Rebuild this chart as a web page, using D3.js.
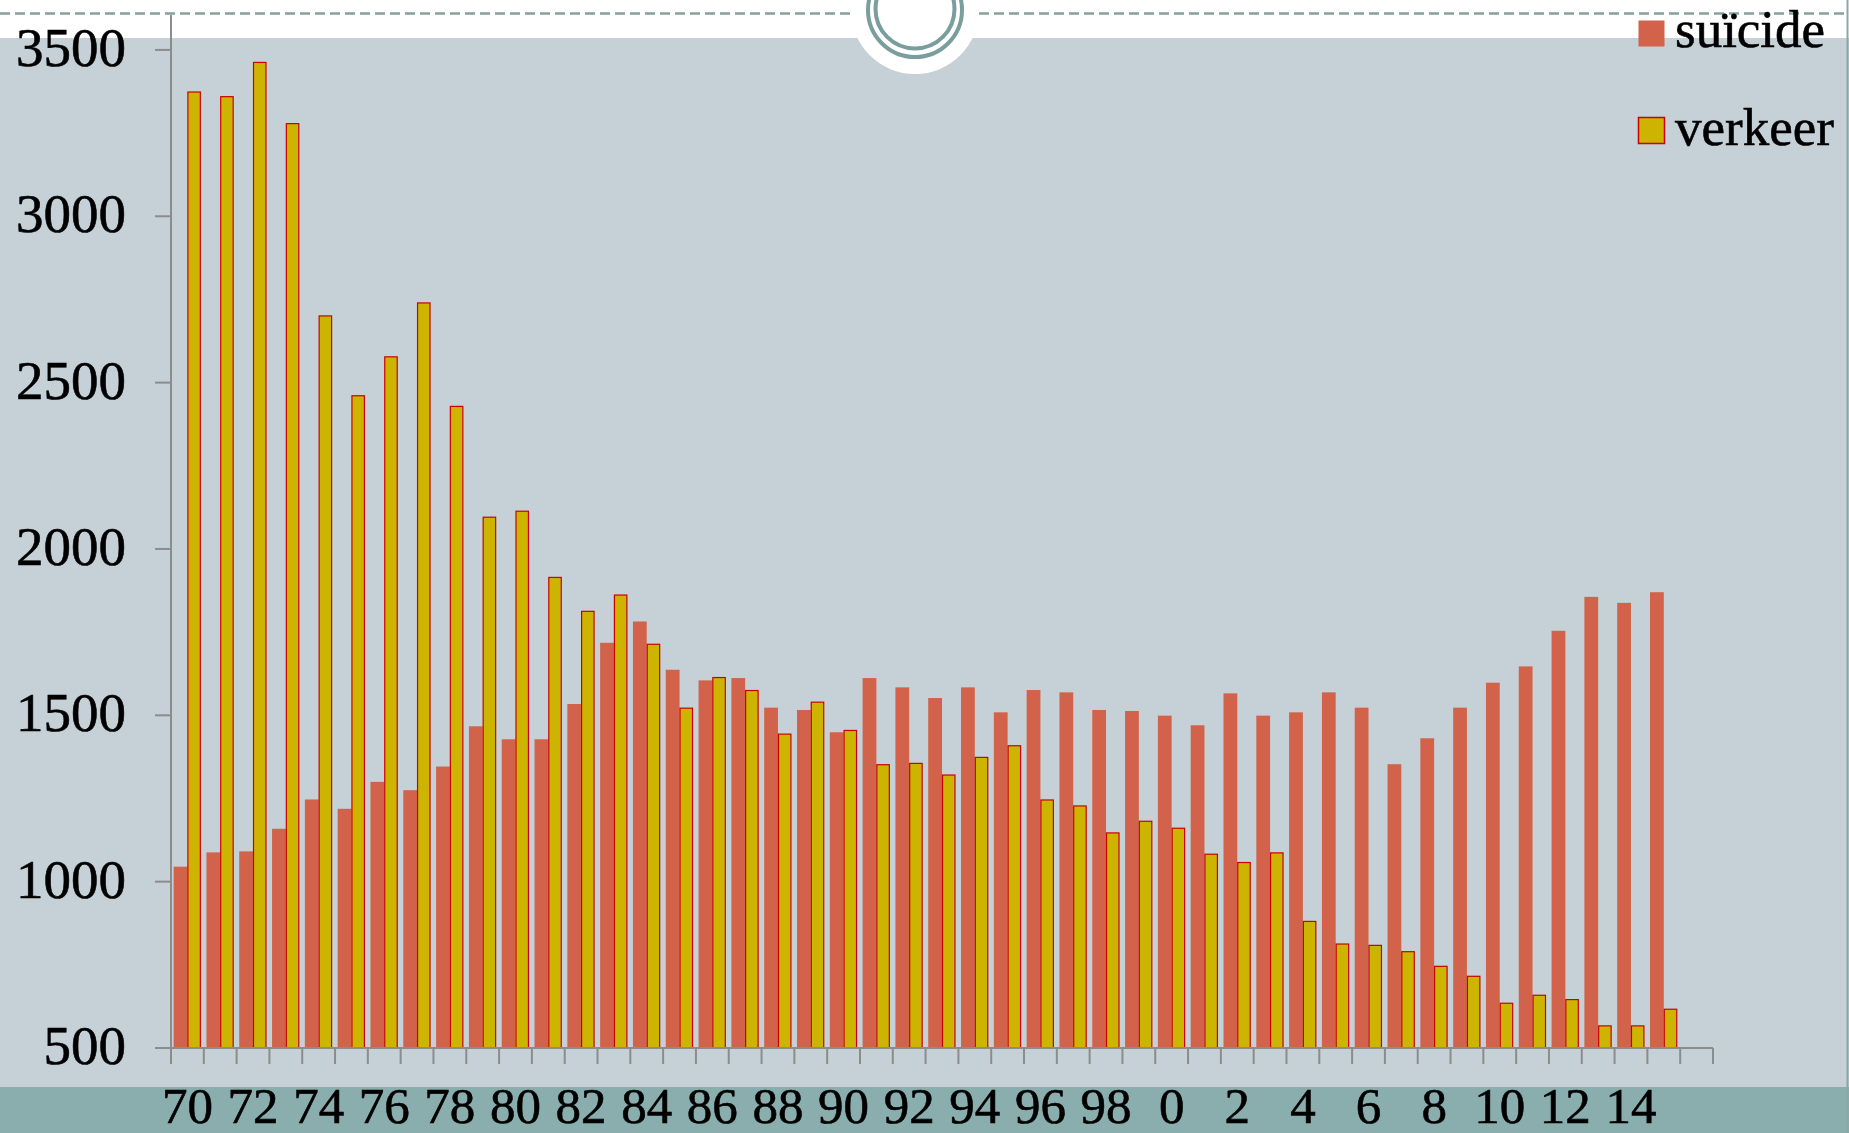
<!DOCTYPE html>
<html>
<head>
<meta charset="utf-8">
<script src="https://cdn.jsdelivr.net/npm/d3@7"></script>
<style>
  body { margin: 0; background: #ffffff; }
  text { font-family: "Liberation Serif", "DejaVu Serif", serif; fill: #000000; stroke: #000000; stroke-width: 0.6px; }
</style>
</head>
<body>
<div id="chart"></div>
<script>
// Chart data
var years = d3.range(1970, 2016);
var suicide = [1045, 1088, 1091, 1159, 1247, 1219, 1300, 1275, 1346, 1467,
  1428, 1428, 1534, 1718, 1782, 1637, 1605, 1612, 1523, 1516,
  1449, 1612, 1584, 1552, 1584, 1509, 1576, 1569, 1516, 1513,
  1499, 1470, 1566, 1499, 1509, 1569, 1523, 1353, 1431, 1523,
  1598, 1647, 1754, 1856, 1838, 1870];
var verkeer = [3375, 3361, 3464, 3280, 2702, 2462, 2579, 2741, 2430, 2097,
  2115, 1916, 1814, 1863, 1715, 1523, 1615, 1576, 1445, 1541,
  1456, 1353, 1357, 1322, 1375, 1410, 1247, 1229, 1148, 1183,
  1162, 1084, 1059, 1088, 882, 814, 810, 791, 747, 717,
  636, 660, 647, 568, 568, 618];
var seriesNames = ["suïcide", "verkeer"];
var yTicks = [500, 1000, 1500, 2000, 2500, 3000, 3500];

// Define SVG area size
var svgWidth = 1849;
var svgHeight = 1133;

var svg = d3.select("#chart")
  .append("svg")
  .attr("width", svgWidth)
  .attr("height", svgHeight);

// slide background
svg.append("rect")
  .attr("x", 0).attr("y", 38)
  .attr("width", svgWidth).attr("height", 1087 - 38)
  .attr("fill", "#c5d1d7");

svg.append("rect")
  .attr("x", 0).attr("y", 1087)
  .attr("width", svgWidth).attr("height", svgHeight - 1087)
  .attr("fill", "#8aadad");

svg.append("line")
  .attr("x1", 1847.5).attr("x2", 1847.5)
  .attr("y1", 0).attr("y2", svgHeight)
  .attr("stroke", "#8aa8a8")
  .attr("stroke-width", 2);

// dashed line at the top with the ring ornament
svg.append("line")
  .attr("x1", 0).attr("x2", 850)
  .attr("y1", 13.5).attr("y2", 13.5)
  .attr("stroke", "#86a0a0")
  .attr("stroke-width", 2.5)
  .attr("stroke-dasharray", "10,5");

svg.append("line")
  .attr("x1", 979).attr("x2", svgWidth)
  .attr("y1", 13.5).attr("y2", 13.5)
  .attr("stroke", "#86a0a0")
  .attr("stroke-width", 2.5)
  .attr("stroke-dasharray", "10,5");

svg.append("circle")
  .attr("cx", 915).attr("cy", 10).attr("r", 64)
  .attr("fill", "#ffffff");

svg.append("circle")
  .attr("cx", 915).attr("cy", 10).attr("r", 47)
  .attr("fill", "none")
  .attr("stroke", "#7a9e9e")
  .attr("stroke-width", 4);

svg.append("circle")
  .attr("cx", 915).attr("cy", 9).attr("r", 39.5)
  .attr("fill", "none")
  .attr("stroke", "#7a9e9e")
  .attr("stroke-width", 4);

// scales: one extra empty category at the end of the axis
var xBand = d3.scaleBand()
  .domain(years.concat([2016]))
  .range([171, 1713])
  .padding(0);

var yLinearScale = d3.scaleLinear()
  .domain([500, 3605])
  .range([1048, 15]);

var chartGroup = svg.append("g");

// suicide bars
chartGroup.selectAll(".suicide")
  .data(years)
  .enter()
  .append("rect")
  .attr("class", "suicide")
  .attr("x", (d, i) => xBand(d) + xBand.bandwidth() * 0.08)
  .attr("width", xBand.bandwidth() * 0.42)
  .attr("y", (d, i) => yLinearScale(suicide[i]))
  .attr("height", (d, i) => yLinearScale(500) - yLinearScale(suicide[i]))
  .attr("fill", "#d2634a");

// verkeer bars
chartGroup.selectAll(".verkeer")
  .data(years)
  .enter()
  .append("rect")
  .attr("class", "verkeer")
  .attr("x", (d, i) => xBand(d) + xBand.bandwidth() * 0.5 + 0.5)
  .attr("width", xBand.bandwidth() * 0.41 - 1)
  .attr("y", (d, i) => yLinearScale(verkeer[i]) + 0.5)
  .attr("height", (d, i) => yLinearScale(500) - yLinearScale(verkeer[i]) - 0.5)
  .attr("fill", "#ccb400")
  .attr("stroke", "#cc0000")
  .attr("stroke-width", 1.2);

// y axis
var axisColor = "#8c8c8c";

chartGroup.append("line")
  .attr("x1", 171).attr("x2", 171)
  .attr("y1", 15).attr("y2", 1048)
  .attr("stroke", axisColor)
  .attr("stroke-width", 2);

chartGroup.selectAll(".ytick")
  .data(yTicks)
  .enter()
  .append("line")
  .attr("class", "ytick")
  .attr("x1", 155).attr("x2", 171)
  .attr("y1", d => yLinearScale(d))
  .attr("y2", d => yLinearScale(d))
  .attr("stroke", axisColor)
  .attr("stroke-width", 2);

chartGroup.selectAll(".ylabel")
  .data(yTicks)
  .enter()
  .append("text")
  .attr("class", "ylabel")
  .attr("x", 126)
  .attr("y", d => yLinearScale(d) + 16)
  .attr("text-anchor", "end")
  .attr("font-size", 55)
  .text(d => d);

// x axis
chartGroup.append("line")
  .attr("x1", 155).attr("x2", 1713)
  .attr("y1", 1048).attr("y2", 1048)
  .attr("stroke", axisColor)
  .attr("stroke-width", 2);

chartGroup.selectAll(".xtick")
  .data(xBand.domain().concat(["end"]))
  .enter()
  .append("line")
  .attr("class", "xtick")
  .attr("x1", (d, i) => 171 + i * xBand.step())
  .attr("x2", (d, i) => 171 + i * xBand.step())
  .attr("y1", 1048).attr("y2", 1064)
  .attr("stroke", axisColor)
  .attr("stroke-width", 2);

chartGroup.selectAll(".xlabel")
  .data(years.filter(d => d % 2 === 0))
  .enter()
  .append("text")
  .attr("class", "xlabel")
  .attr("x", d => xBand(d) + xBand.bandwidth() / 2)
  .attr("y", 1123)
  .attr("text-anchor", "middle")
  .attr("font-size", 51)
  .text(d => String(d % 100));

// legend
var legend = svg.append("g");
var legendFill = ["#d2634a", "#ccb400"];
var legendStroke = ["none", "#cc0000"];

seriesNames.forEach(function(name, i) {
  legend.append("rect")
    .attr("x", 1638.5)
    .attr("y", 20.5 + i * 97)
    .attr("width", 26)
    .attr("height", 26)
    .attr("fill", legendFill[i])
    .attr("stroke", legendStroke[i])
    .attr("stroke-width", 1.5);

  legend.append("text")
    .attr("x", 1675)
    .attr("y", 47 + i * 98)
    .attr("font-size", 53)
    .text(name);
});
</script>
</body>
</html>
